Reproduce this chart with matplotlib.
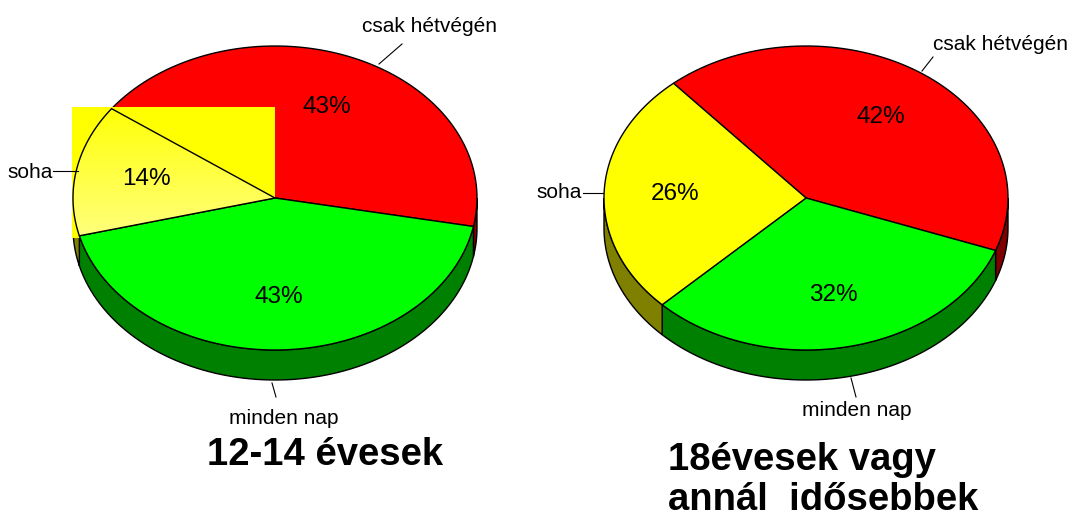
import numpy as np
import matplotlib
matplotlib.use("Agg")
import matplotlib.pyplot as plt
from matplotlib import font_manager
from matplotlib.patches import Polygon, Rectangle

# data
categories = ["csak hétvégén", "minden nap", "soha"]
young = [43, 43, 14]      # 12-14 évesek
old = [42, 32, 26]        # 18évesek vagy annál idősebbek
titles = ["12-14 évesek", "18évesek vagy\nannál  idősebbek"]

top_cols = ["#ff0000", "#00ff00", "#ffff00"]
side_cols = ["#800000", "#008000", "#808000"]

names = {f.name for f in font_manager.fontManager.ttflist}
narrow = "Liberation Sans Narrow" if "Liberation Sans Narrow" in names else "Liberation Sans"

fig = plt.figure(figsize=(10.74, 5.16), dpi=100)
ax = fig.add_axes([0, 0, 1, 1])
ax.set_xlim(0, 1074)
ax.set_ylim(516, 0)
ax.axis("off")

RX, RY, DEPTH = 202, 152, 30


def pt(cx, cy, t, dy=0):
    t = np.radians(t)
    return cx + RX * np.cos(t), cy - RY * np.sin(t) + dy


def arc(cx, cy, a, b, dy=0, n=80):
    ts = np.linspace(a, b, n)
    return np.column_stack(pt(cx, cy, ts, dy))


def pie3d(cx, cy, vals, start, hook=None):
    bounds = []
    s = start
    for v in vals:
        e = s - 360 * v / sum(vals)
        bounds.append((s, e))
        s = e
    # side walls (front half only)
    for i, (s, e) in enumerate(bounds):
        for k in (-1, 0, 1):
            lo = max(e, -180 + 360 * k)
            hi = min(s, 0 + 360 * k)
            if hi > lo:
                top = arc(cx, cy, lo, hi)
                bot = arc(cx, cy, hi, lo, DEPTH)
                ax.add_patch(Polygon(np.vstack([top, bot]), closed=True,
                                     fc=side_cols[i], ec="black", lw=1, zorder=1))
    # top faces
    polys = []
    for i, (s, e) in enumerate(bounds):
        poly = np.vstack([[cx, cy], arc(cx, cy, s, e)])
        polys.append(poly)
    for i, poly in enumerate(polys):
        if hook is not None and i == 2:
            hook(poly)
        else:
            ax.add_patch(Polygon(poly, closed=True, fc=top_cols[i], ec="black",
                                 lw=1, zorder=3 if i != 0 else 2))
    # percent labels
    for i, (s, e) in enumerate(bounds):
        m = (s + e) / 2
        x = cx + 0.65 * RX * np.cos(np.radians(m))
        y = cy - 0.65 * RY * np.sin(np.radians(m))
        ax.text(x, y, f"{vals[i]}%", ha="center", va="center", fontsize=17.5,
                family=narrow, zorder=5)


def highlighted(poly):
    # selection box + lighter gradient slice, as in the original screenshot
    ax.add_patch(Rectangle((72, 107), 203, 131, fc="#ffff00", ec="none", zorder=2.5))
    p = Polygon(poly, closed=True, fc="none", ec="black", lw=1, zorder=3.2)
    ax.add_patch(p)
    grad = np.linspace(0, 1, 100)[:, None]
    img = np.dstack([np.ones((100, 1)), np.ones((100, 1)), grad * 0.5, np.ones((100, 1))])
    im = ax.imshow(img, extent=(60, 290, 240, 100), aspect="auto", zorder=3.1,
                   interpolation="bilinear")
    im.set_clip_path(p)


pie3d(275, 198, young, 144, hook=highlighted)
pie3d(806, 198, old, 131)
ax.set_xlim(0, 1074)
ax.set_ylim(516, 0)

lab = dict(fontsize=15, family=narrow, zorder=5)
# left pie labels
ax.text(362, 27, categories[0], ha="left", va="center", **lab)
ax.plot([379, 402], [64, 44], color="black", lw=0.8, zorder=5)
ax.text(53, 172, categories[2], ha="right", va="center", **lab)
ax.plot([53, 78], [171, 171], color="black", lw=0.8, zorder=5)
ax.text(284, 419, categories[1], ha="center", va="center", **lab)
ax.plot([272, 276], [383, 397], color="black", lw=0.8, zorder=5)
# right pie labels
ax.text(933, 45, categories[0], ha="left", va="center", **lab)
ax.plot([922, 933], [71, 57], color="black", lw=0.8, zorder=5)
ax.text(582, 193, categories[2], ha="right", va="center", **lab)
ax.plot([583, 603], [193, 193], color="black", lw=0.8, zorder=5)
ax.text(857, 411, categories[1], ha="center", va="center", **lab)
ax.plot([851, 856], [378, 397], color="black", lw=0.8, zorder=5)

ax.text(325, 455, titles[0], ha="center", va="center", fontsize=27.5,
        fontweight="bold", family="Liberation Sans")
ax.text(668, 480, titles[1], ha="left", va="center", fontsize=27.5,
        fontweight="bold", family="Liberation Sans", linespacing=1.15)

fig.savefig("out.png", dpi=100)
